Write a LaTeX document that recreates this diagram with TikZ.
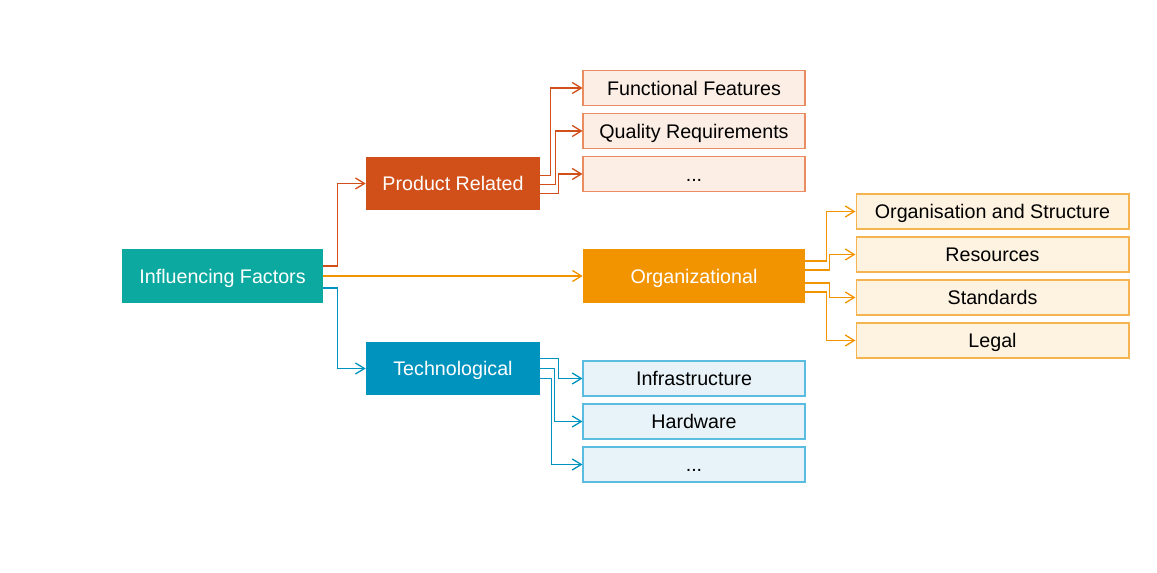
\documentclass[tikz,border=0pt]{standalone}
\usepackage{fontspec}
\setmainfont{Liberation Sans}
\usetikzlibrary{arrows.meta,calc}

\definecolor{ifteal}{HTML}{0BA9A0}
\definecolor{prodred}{HTML}{D14F18}
\definecolor{orgorange}{HTML}{F29400}
\definecolor{techblue}{HTML}{0093BE}
\definecolor{prodlight}{HTML}{FCEEE5}
\definecolor{prodline}{HTML}{EA8C62}
\definecolor{orglight}{HTML}{FEF2E0}
\definecolor{orgline}{HTML}{F6B450}
\definecolor{techlight}{HTML}{E8F3F9}
\definecolor{techline}{HTML}{5ABDE0}

\begin{document}
\begin{tikzpicture}[x=0.02cm, y=-0.02cm,
    >={Straight Barb[length=1.8mm,width=2.2mm]},
    font=\fontsize{11.2}{14}\selectfont,
    mainbox/.style={minimum height=1.07cm, text=white, inner sep=0pt, text height=0.8em, text depth=0pt},
    subbox/.style={minimum height=0.70cm, minimum width=4.44cm, line width=0.6pt, inner sep=0pt, text height=0.8em, text depth=0pt},
    link/.style={->, line width=0.75pt}
]

    % fix the margins of the page
    \useasboundingbox (0,0) rectangle (1157,573);

    % Define the offsets of the branches
    \def\jog{14}

    % the root and its three groups
    \node[mainbox, fill=ifteal, minimum width=4.02cm] (if) at (222.5,276) {Influencing Factors};
    \node[mainbox, fill=prodred, minimum width=3.48cm] (prod) at (453,183.5) {Product Related};
    \node[mainbox, fill=orgorange, minimum width=4.44cm] (org) at (694,276) {Organizational};
    \node[mainbox, fill=techblue, minimum width=3.48cm] (tech) at (453,368.5) {Technological};

    % product related items
    \node[subbox, fill=prodlight, draw=prodline] (ff) at (694,88) {Functional Features};
    \node[subbox, fill=prodlight, draw=prodline] (qr) at (694,131) {Quality Requirements};
    \node[subbox, fill=prodlight, draw=prodline] (pd) at (694,174) {...};

    % organizational items
    \node[subbox, fill=orglight, draw=orgline, minimum width=5.46cm] (os) at (992.5,211.5) {Organisation and Structure};
    \node[subbox, fill=orglight, draw=orgline, minimum width=5.46cm] (rs) at (992.5,254.5) {Resources};
    \node[subbox, fill=orglight, draw=orgline, minimum width=5.46cm] (st) at (992.5,297.5) {Standards};
    \node[subbox, fill=orglight, draw=orgline, minimum width=5.46cm] (lg) at (992.5,340.5) {Legal};

    % technological items
    \node[subbox, fill=techlight, draw=techline] (is) at (694,378.5) {Infrastructure};
    \node[subbox, fill=techlight, draw=techline] (hw) at (694,421.5) {Hardware};
    \node[subbox, fill=techlight, draw=techline] (td) at (694,464.5) {...};

    % root to groups
    \draw[link, prodred] ($(if.east)+(0,-10)$) -- ++(\jog,0) |- (prod.west);
    \draw[link, orgorange] (if.east) -- (org.west);
    \draw[link, techblue] ($(if.east)+(0,12)$) -- ++(\jog,0) |- (tech.west);

    % groups to items: target/offset/jog
    \foreach \t/\dy/\dx in {ff/-8/10, qr/1/15, pd/10/18}{
        \draw[link, prodred] ($(prod.east)+(0,\dy)$) -- ++(\dx,0) |- (\t.west);
    }
    \foreach \t/\dy/\dx in {os/-15/21, rs/-6/24, st/7/24, lg/16/21}{
        \draw[link, orgorange] ($(org.east)+(0,\dy)$) -- ++(\dx,0) |- (\t.west);
    }
    \foreach \t/\dy/\dx in {is/-10/18, hw/0/14, td/10/11}{
        \draw[link, techblue] ($(tech.east)+(0,\dy)$) -- ++(\dx,0) |- (\t.west);
    }

\end{tikzpicture}
\end{document}
